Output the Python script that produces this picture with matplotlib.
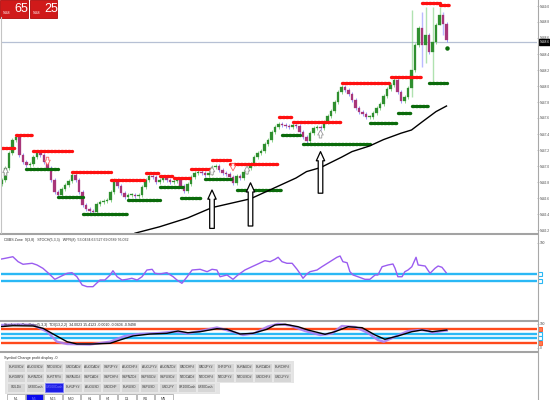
import matplotlib
matplotlib.use('Agg')
import matplotlib.pyplot as plt
from matplotlib.patches import Rectangle
import matplotlib.transforms as mtransforms
import numpy as np

plt.rcParams['font.family'] = ['DejaVu Sans']
NARROW = ['Liberation Sans Narrow', 'Liberation Sans', 'DejaVu Sans']

# ---------------- data ----------------
closes = [5446.83, 5446.98, 5447.16, 5447.33, 5447.36, 5447.14, 5447.05, 5447.01, 5447.03, 5447.11,
          5447.16, 5447.14, 5447.05, 5446.98, 5446.83, 5446.68, 5446.64, 5446.71, 5446.76, 5446.81,
          5446.89, 5446.83, 5446.68, 5446.51, 5446.46, 5446.44, 5446.43, 5446.53, 5446.55, 5446.56,
          5446.58, 5446.68, 5446.83, 5446.75, 5446.66, 5446.61, 5446.64, 5446.64, 5446.63, 5446.64,
          5446.74, 5446.83, 5446.88, 5446.86, 5446.80, 5446.83, 5446.85, 5446.83, 5446.80, 5446.81,
          5446.83, 5446.75, 5446.69, 5446.78, 5446.86, 5446.91, 5446.93, 5446.91, 5446.89, 5446.91,
          5446.99, 5447.00, 5446.95, 5446.91, 5446.90, 5446.86, 5446.79, 5446.88, 5446.85, 5446.93,
          5446.98, 5447.03, 5447.11, 5447.16, 5447.19, 5447.28, 5447.33, 5447.43, 5447.49, 5447.53,
          5447.51, 5447.50, 5447.49, 5447.51, 5447.50, 5447.43, 5447.36, 5447.31, 5447.41, 5447.48,
          5447.49, 5447.48, 5447.55, 5447.63, 5447.69, 5447.80, 5447.93, 5447.99, 5447.95, 5447.90,
          5447.83, 5447.73, 5447.68, 5447.65, 5447.61, 5447.61, 5447.66, 5447.73, 5447.78, 5447.88,
          5447.96, 5448.01, 5448.08, 5447.93, 5447.81, 5447.86, 5447.98, 5448.20, 5448.51, 5448.73,
          5448.51, 5448.64, 5448.43, 5448.55, 5448.76, 5448.89, 5448.78, 5448.58]
first_open = 5446.78
big_wicks = {117: (5448.95, 5447.86), 120: (5448.93, 5448.24), 121: (5448.99, 5448.29),
             123: (5448.99, 5448.04), 125: (5448.99, 5448.76), 126: (5448.93, 5448.64)}
current_price = 5448.55
bid_big, ask_big, price_head = '65', '25', '5448'

res_start = [0, 4, 9, 20, 31, 41, 45, 49, 54, 60, 65, 79, 83, 97, 111, 120, 125]
res_end = [4, 9, 20, 31, 41, 45, 49, 54, 60, 65, 79, 83, 97, 111, 120, 125, 128]
res_level = [5447.23, 5447.39, 5447.19, 5446.93, 5446.83, 5446.91, 5446.88, 5446.85, 5446.96, 5447.08,
             5447.03, 5447.61, 5447.55, 5448.04, 5448.11, 5449.04, 5449.01]

sup_start = [7, 16, 23, 36, 45, 51, 58, 67, 80, 86, 105, 113, 117, 122]
sup_end = [16, 23, 36, 45, 52, 57, 66, 80, 85, 105, 113, 117, 122, 127]
sup_level = [5446.96, 5446.61, 5446.40, 5446.58, 5446.74, 5446.60, 5446.84, 5446.70, 5447.39, 5447.28,
             5447.54, 5447.66, 5447.75, 5448.04]
sup_dot_idx, sup_dot_level = [127], [5448.48]

ma_idx = [38, 45, 53, 60, 71, 78, 84, 87, 91, 97, 100, 105, 109, 114, 117, 120, 124, 127]
ma_val = [5446.16, 5446.24, 5446.35, 5446.48, 5446.59, 5446.73, 5446.85, 5446.93, 5446.98, 5447.11,
          5447.18, 5447.25, 5447.33, 5447.41, 5447.45, 5447.55, 5447.68, 5447.75]

arrow_idx = [60, 71, 91]
arrow_tail = [5446.22, 5446.25, 5446.66]
arrow_tip = [5446.70, 5446.79, 5447.18]

buy_idx = [1, 60, 70, 91]
buy_tip = [5446.98, 5446.99, 5447.00, 5447.45]
buy_tail = [5446.88, 5446.89, 5446.90, 5447.35]
sell_idx = [13, 66]
sell_tip = [5447.01, 5446.94]
sell_tail = [5447.11, 5447.03]

price_ticks = [5449.0, 5448.8, 5448.6, 5448.4, 5448.2, 5448.0, 5447.8, 5447.6, 5447.4, 5447.2,
               5447.0, 5446.8, 5446.6, 5446.4, 5446.2]

osc_x = [-0.6, 0.9, 3.1, 4.6, 6.0, 8.6, 10.0, 11.7, 13.1, 15.1, 16.6, 18.6, 20.0, 21.4, 22.9, 24.3, 26.0,
         28.0, 29.4, 30.9, 31.7, 32.9, 34.3, 35.7, 37.1, 38.6, 40.0, 41.4, 42.9, 43.7, 45.1, 47.1, 48.9,
         50.0, 51.4, 52.9, 54.3, 56.6, 58.6, 60.0, 61.4, 62.3, 64.3, 66.0, 67.4, 69.4, 71.4, 73.1, 75.1,
         76.6, 78.0, 78.9, 80.0, 81.4, 82.9, 84.3, 85.1, 86.0, 87.1, 88.0, 90.0, 91.4, 93.7, 95.7, 96.6,
         97.4, 98.6, 99.4, 100.3, 101.7, 103.7, 105.1, 106.6, 107.4, 108.6, 110.3, 111.7, 112.3, 113.1,
         114.3, 115.1, 116.0, 117.1, 118.3, 118.9, 120.9, 122.3, 123.7, 124.6, 125.7, 126.9]
osc_v = [76.0, 77.4, 79.7, 72.6, 68.9, 70.3, 67.9, 63.1, 56.9, 47.4, 51.1, 56.0, 56.9, 51.1, 39.3, 36.9,
         36.9, 46.4, 46.4, 53.6, 59.7, 51.1, 46.4, 47.4, 48.9, 46.4, 51.1, 60.7, 61.7, 56.0, 55.0, 56.9,
         51.1, 46.4, 41.7, 51.1, 60.7, 61.7, 58.3, 61.7, 60.7, 51.1, 53.6, 47.4, 53.6, 60.7, 65.4, 69.3,
         74.0, 72.6, 76.0, 78.9, 72.6, 70.3, 70.3, 61.7, 56.0, 48.9, 55.0, 58.3, 60.7, 65.4, 72.6, 78.9,
         80.7, 72.6, 71.1, 58.3, 53.6, 51.1, 47.4, 47.4, 53.6, 53.6, 65.4, 67.9, 69.3, 63.1, 51.1, 51.1,
         58.3, 60.7, 65.4, 78.9, 67.9, 66.4, 56.0, 63.1, 66.4, 64.6, 56.9]
osc_levels = [55, 45]

k_x = [-0.6, 5.1, 8.9, 12.9, 15.7, 18.6, 25.1, 30.9, 35.1, 39.4, 45.1, 49.4, 53.1, 58.0, 61.4, 65.1, 68.9,
       72.3, 76.0, 78.9, 82.3, 86.6, 90.9, 94.3, 97.1, 100.9, 104.6, 107.4, 109.1, 112.3, 116.0, 119.4,
       121.7, 122.9, 125.7, 127.1]
k_v = [95.4, 97.5, 95.4, 67.5, 25.8, 16.3, 14.2, 25.8, 49.6, 57.9, 62.1, 68.3, 60.0, 74.6, 85.0, 70.4, 53.8,
       62.1, 89.2, 100.0, 93.3, 70.4, 53.8, 60.0, 91.3, 87.1, 62.1, 32.9, 25.8, 46.7, 70.4, 74.6, 71.7, 63.3,
       70.4, 72.5]
d_x = [-0.6, 3.1, 8.9, 11.7, 15.1, 18.6, 21.4, 26.0, 30.9, 33.7, 37.4, 42.3, 47.1, 50.3, 53.1, 56.6, 61.4,
       64.3, 68.0, 71.7, 75.7, 78.0, 80.9, 84.6, 87.4, 92.3, 95.1, 98.9, 102.9, 106.6, 109.4, 113.1, 117.1,
       120.0, 122.9, 127.1]
d_v = [88.3, 92.5, 91.3, 81.7, 53.8, 25.8, 16.3, 16.3, 19.2, 32.9, 49.6, 57.9, 60.8, 70.4, 63.3, 67.5, 80.0,
       77.5, 57.9, 60.8, 77.5, 95.4, 98.3, 88.3, 74.6, 56.7, 67.5, 88.3, 84.2, 53.8, 35.8, 49.6, 67.5, 74.6,
       67.5, 74.6]
stoch_red_levels = [80, 20]
stoch_cyan_levels = [60, 40]

osc_title = 'CBBS Zone  9(3,8)   STOCH(5,3,3)   WPR(8)  53.0434 63.527 69.0789 76.032'
stoch_title = 'Stochastic Oscillator(5,3,3)  TDI(13,2,2)  34.0023 15.4123 -0.0010 -0.0404 -0.9498'
panel_caption = 'Symbol Change profit display -0'

row1 = ['EURUSD#', 'AUDUSD#', 'NZDUSD#', 'USDCAD#', 'AUDCAD#', 'GBPJPY#', 'AUDCHF#', 'AUDJPY#',
        'AUDNZD#', 'CADCHF#', 'CADJPY#', 'CHFJPY#', 'EURAUD#', 'EURCAD#', 'EURCHF#']
row2 = ['EURGBP#', 'EURNZD#', 'EURTRY#', 'GBPAUD#', 'GBPCAD#', 'GBPCHF#', 'GBPNZD#', 'GBPSGD#',
        'GBPUSD#', 'NZDCAD#', 'NZDCHF#', 'NZDJPY#', 'NZDUSD#', 'USDCHF#', 'USDJPY#']
row3 = ['GOLD#', 'US30Cash', 'US500Cash', 'EURJPY#', 'AUDUSD', 'USDCHF', 'EURUSD', 'GBPUSD',
        'USDJPY', 'UK100Cash', 'US30Cash']
row4 = ['M1', 'M5', 'M15', 'M30', 'H1', 'H4', 'D1', 'W1', 'MN']
selected_symbol = 'US500Cash'
selected_tf = 'M5'

# ---------------- figure ----------------
W, H = 550.0, 400.0
fig = plt.figure(figsize=(5.5, 4.0), dpi=100)
fig.patch.set_facecolor('white')


def frac(x0, y0, x1, y1):
    return [x0 / W, 1 - y1 / H, (x1 - x0) / W, (y1 - y0) / H]


ax = fig.add_axes(frac(1, 0, 537, 233))
ax1 = fig.add_axes(frac(1, 236, 537, 320))
ax2 = fig.add_axes(frac(1, 322, 537, 352))
XL = (-0.2857, 152.857)
for a in (ax, ax1, ax2):
    a.set_xlim(*XL)
    a.set_facecolor('white')
    for s in a.spines.values():
        s.set_visible(False)
    a.set_xticks([])
    a.yaxis.tick_right()
    a.tick_params(axis='y', labelsize=2.3, length=1.4, width=0.4, color='#999999',
                  labelcolor='#444444', pad=0.6)

ax.set_ylim(5446.1625, 5449.075)
ax1.set_ylim(-10.71, 109.29)
ax2.set_ylim(-17.08, 107.92)

# --- candles ---
n = len(closes)
opens = [first_open] + closes[:-1]
wick_pad = 0.025
for i in range(n):
    o, c = opens[i], closes[i]
    up = c >= o
    top, bot = max(o, c), min(o, c)
    hi, lo = top + wick_pad, bot - wick_pad
    wick_col = '#7ccf7c' if up else '#8c8cff'
    if i in big_wicks:
        hi, lo = big_wicks[i]
        ax.vlines(i, lo, hi, color=wick_col, lw=1.0, alpha=0.6, zorder=2)
    else:
        ax.vlines(i, lo, hi, color=wick_col, lw=0.6, zorder=2)
    body_col = '#2f8f2f' if up else '#a8367a'
    ax.bar(i, max(top - bot, 0.012), bottom=bot, width=0.62, color=body_col,
           edgecolor=body_col, linewidth=0.2, zorder=3)

# current price line
ax.axhline(current_price, color='#b6c0d4', lw=0.9, zorder=1)

# resistance / support dotted lines
for s, e, lv in zip(res_start, res_end, res_level):
    ax.plot([s, e], [lv, lv], color='#ff1010', lw=2.4, ls=(0, (0.5, 0.55)),
            dash_capstyle='round', zorder=4)
for s, e, lv in zip(sup_start, sup_end, sup_level):
    ax.plot([s, e], [lv, lv], color='#0b6b0b', lw=2.4, ls=(0, (0.5, 0.55)),
            dash_capstyle='round', zorder=4)
ax.plot(sup_dot_idx, sup_dot_level, 'o', color='#0b6b0b', ms=2.2, zorder=4)

# moving average
ax.plot(ma_idx, ma_val, color='black', lw=1.0, zorder=5)

# big hand-drawn arrows
for xi, t0, t1 in zip(arrow_idx, arrow_tail, arrow_tip):
    ax.annotate('', xy=(xi, t1), xytext=(xi, t0),
                arrowprops=dict(arrowstyle='simple,head_length=1.1,head_width=1.0,tail_width=0.55',
                                fc='white', ec='black', lw=0.9, mutation_scale=6,
                                shrinkA=0, shrinkB=0), zorder=6)
# small signal arrows
for xi, t1, t0 in zip(buy_idx, buy_tip, buy_tail):
    ax.annotate('', xy=(xi, t1), xytext=(xi, t0),
                arrowprops=dict(arrowstyle='simple,head_length=0.9,head_width=1.0,tail_width=0.45',
                                fc='white', ec='#9a9a9a', lw=0.6, mutation_scale=4,
                                shrinkA=0, shrinkB=0), zorder=6)
for xi, t1, t0 in zip(sell_idx, sell_tip, sell_tail):
    ax.annotate('', xy=(xi, t1), xytext=(xi, t0),
                arrowprops=dict(arrowstyle='simple,head_length=0.9,head_width=1.0,tail_width=0.45',
                                fc='white', ec='#ff6060', lw=0.6, mutation_scale=4,
                                shrinkA=0, shrinkB=0), zorder=6)

ax.set_yticks(price_ticks)
ax.set_yticklabels([f'{v:.1f}' for v in price_ticks])
for a in (ax, ax1, ax2):
    for lab in a.get_yticklabels():
        lab.set_family(NARROW)
trans = mtransforms.blended_transform_factory(ax.transAxes, ax.transData)
ax.text(1.0045, current_price, f'{current_price:.1f}', transform=trans, ha='left', va='center',
        fontsize=2.3, color='white', family=NARROW,
        bbox=dict(boxstyle='square,pad=0.25', fc='black', ec='black'), zorder=10, clip_on=False)

# --- oscillator panel ---
for lv in osc_levels:
    ax1.axhline(lv, color='#2ab8f5', lw=1.7, zorder=1)
    ax1.plot([1.006], [lv], marker='s', ms=2.6, mfc='white', mec='#2ab8f5', mew=0.8,
             transform=mtransforms.blended_transform_factory(ax1.transAxes, ax1.transData),
             clip_on=False)
ax1.plot(osc_x, osc_v, color='#9a5cf0', lw=1.0, zorder=3)
ax1.set_yticks([100])
ax1.set_yticklabels(['100'])
for lab in ax1.get_yticklabels():
    lab.set_family(NARROW)

# --- stochastic panel ---
t2 = mtransforms.blended_transform_factory(ax2.transAxes, ax2.transData)
for lv in stoch_red_levels:
    ax2.axhline(lv, color='#ff4a1c', lw=1.7, zorder=1)
    ax2.plot([1.006], [lv], marker='s', ms=2.6, mfc='#ff7a50', mec='#ff4a1c', mew=0.6,
             transform=t2, clip_on=False)
for lv in stoch_cyan_levels:
    ax2.axhline(lv, color='#2ab8f5', lw=1.7, zorder=1)
    ax2.plot([1.006], [lv], marker='s', ms=2.6, mfc='white', mec='#2ab8f5', mew=0.8,
             transform=t2, clip_on=False)
ax2.plot(k_x, k_v, color='#a77ef5', lw=1.7, alpha=0.9, zorder=3)
ax2.plot(d_x, d_v, color='black', lw=1.0, zorder=4)
ax2.set_yticks([100, 0])
ax2.set_yticklabels(['100', '0'])
for lab in ax2.get_yticklabels():
    lab.set_family(NARROW)

# ---------------- overlay (frame, header boxes, buttons) ----------------
ov = fig.add_axes([0, 0, 1, 1], zorder=20)
ov.set_xlim(0, W)
ov.set_ylim(H, 0)
ov.axis('off')
ov.patch.set_visible(False)

sep = '#a3a3a3'
for yy in (234.0, 320.8, 352.2):
    ov.plot([0, 537.5], [yy, yy], color=sep, lw=1.5, solid_capstyle='butt')
ov.plot([537.5, 537.5], [0, 400], color='#a8a8a8', lw=0.8)
ov.plot([1, 1], [17, 233], color='#c4c4c4', lw=0.8)

# price boxes
for x0, big in ((0, bid_big), (30, ask_big)):
    ov.add_patch(Rectangle((x0, 0), 28 if x0 == 0 else 27, 17.5, fc='#d01a1a', ec='#b00808', lw=0.6))
    ov.text(x0 + 2.5, 12.5, price_head, fontsize=2.4, color='white', ha='left', va='center',
            family=NARROW)
    ov.text(x0 + 21, 8.5, big, fontsize=9, color='white', ha='center', va='center',
            family=NARROW)

# panel titles
ov.text(4, 239.5, osc_title, fontsize=2.6, color='#333333', ha='left', va='center', family=NARROW)
ov.text(4, 325, stoch_title, fontsize=2.6, color='#222222', ha='left', va='center', family=NARROW)
ov.text(4, 357.5, panel_caption, fontsize=2.7, color='#333333', ha='left', va='center',
        family=NARROW)

# button panel
ov.add_patch(Rectangle((5, 361), 289, 21.5, fc='#e4e4e4', ec='none'))
ov.add_patch(Rectangle((5, 381.5), 215, 12, fc='#e4e4e4', ec='none'))
for r, labels in enumerate((row1, row2, row3)):
    y = 362.5 + 10 * r
    for j, lab in enumerate(labels):
        x = 7 + 19 * j
        sel = (lab == selected_symbol and r == 2)
        ov.add_patch(Rectangle((x, y), 18, 9, fc='#1f1fe6' if sel else '#d6d6d6',
                               ec='#7f7fff' if sel else '#ececec', lw=0.5))
        ov.text(x + 9, y + 4.7, lab, fontsize=2.3, color='#8080ff' if sel else '#3a3a3a',
                ha='center', va='center', family=NARROW)
for j, lab in enumerate(row4):
    x = 7 + 18.5 * j
    sel = lab == selected_tf
    ov.add_patch(Rectangle((x, 394), 17.5, 9, fc='#0a0aee' if sel else 'white',
                           ec='#a0a0a0', lw=0.5))
    ov.text(x + 8.75, 398.5, lab, fontsize=2.4, color='#8080ff' if sel else '#3a3a3a',
            ha='center', va='center', family=NARROW)

fig.savefig('out.png', dpi=100, facecolor='white')
